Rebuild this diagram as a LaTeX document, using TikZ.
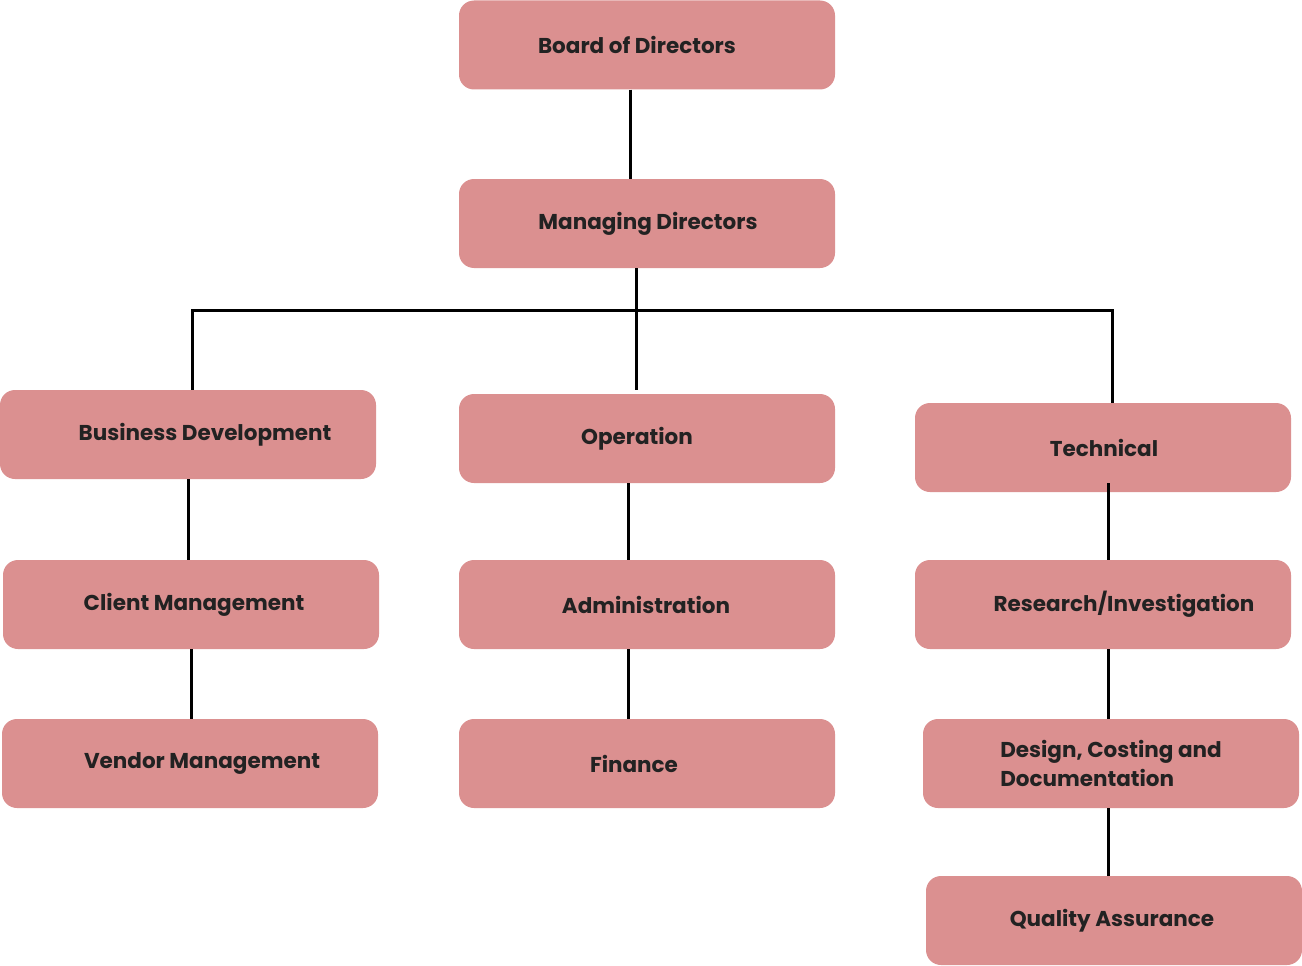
\documentclass[tikz,border=0pt]{standalone}
\usepackage{fontspec}
\setmainfont{Poppins}
\usepackage{tikz}
\usetikzlibrary{calc}
\definecolor{boxpink}{HTML}{DB9090}
\definecolor{boxtext}{HTML}{222222}
\begin{document}
\begin{tikzpicture}[x=1pt,y=-1pt,
    unit/.style={rectangle,rounded corners=15pt,fill=boxpink,draw=none,minimum width=376pt,minimum height=89pt,
        align=left,text=boxtext,font=\fontsize{21.5}{29}\selectfont\bfseries,inner sep=0pt},
    link/.style={line width=3pt,black}]
    \useasboundingbox (0,0) rectangle (1302,966);
    % boxes: name / x / y / text shift / label
    \foreach \n/\x/\y/\d/\txt in {board/647/45/-20/{Board of Directors},mgr/647/223.5/2/{Managing Directors},
        bd/188/434.5/34/{Business Development},op/647/438.5/-20/{Operation},tech/1103/447.5/2/{Technical},
        client/191/604.5/6/{Client Management},admin/647/604.5/-2/{Administration},res/1103/604.5/42/{Research/Investigation},
        vendor/190/763.5/24/{Vendor Management},fin/647/763.5/-26/{Finance},design/1111/763.5/0/{Design, Costing and\\Documentation},
        qa/1114/920.5/-4/{Quality Assurance}}
    {
        \node[unit] (\n) at (\x,\y) {\hspace*{\d pt}\txt};
    }
    \coordinate (bus) at (636,310);
    \draw[link] ([xshift=-17]board.south) -- ([xshift=-17]mgr.north);
    \draw[link,shorten >=4pt] ([xshift=-11]mgr.south) -- ([xshift=-11]op.north);
    \draw[link] ([xshift=4]bd.north) |- (bus) -| ([xshift=9]tech.north);
    \draw[link] (bd.south) -- (bd.south |- client.north);
    \draw[link] (client.south) -- (client.south |- vendor.north);
    \draw[link] ([xshift=-19]op.south) -- ([xshift=-19]admin.north);
    \draw[link] ([xshift=-19]admin.south) -- ([xshift=-19]fin.north);
    \draw[link] ([xshift=5,yshift=9]tech.south) -- ([xshift=5]res.north);
    \draw[link] ([xshift=5]res.south) -- ([xshift=5]res.south |- design.north);
    \draw[link] ([xshift=5]res.south |- design.south) -- ([xshift=5]res.south |- qa.north);
\end{tikzpicture}
\end{document}
